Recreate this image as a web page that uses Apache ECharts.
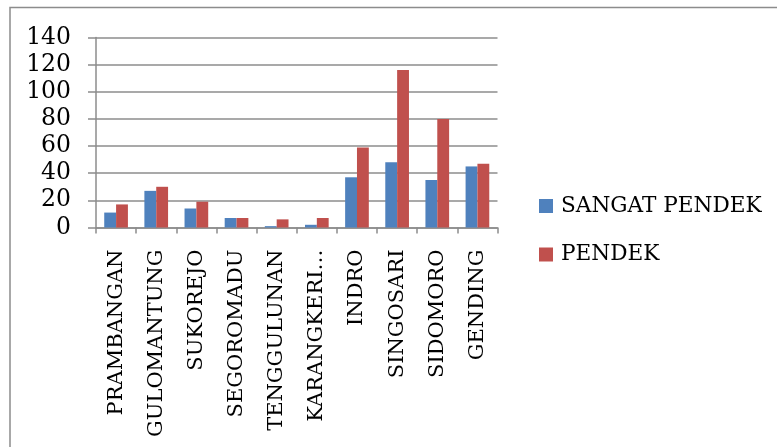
<!DOCTYPE html>
<html>
<head>
<meta charset="utf-8">
<script src="https://cdn.jsdelivr.net/npm/echarts@6/dist/echarts.min.js"></script>
<style>
  html, body { margin: 0; padding: 0; background: #ffffff; }
  #chart { width: 777px; height: 447px; }
</style>
</head>
<body>
<div id="chart"></div>
<script>
// Villages (desa) and counts of stunted children per category
const villages = ['PRAMBANGAN', 'GULOMANTUNG', 'SUKOREJO', 'SEGOROMADU', 'TENGGULUNAN',
                  'KARANGKERI…', 'INDRO', 'SINGOSARI', 'SIDOMORO', 'GENDING'];
const sangatPendek = [11, 27, 14, 7, 1, 2, 37, 48, 35, 45];
const pendek = [17, 30, 19, 7, 6, 7, 59, 116, 80, 47];
const yTicks = { min: 0, max: 140, step: 20 };

const FONT = 'DejaVu Serif';
const GRAY = '#8c8c8c';

const chart = echarts.init(document.getElementById('chart'), null, { renderer: 'canvas' });

chart.setOption({
  animation: false,
  backgroundColor: '#ffffff',
  textStyle: { fontFamily: FONT, color: '#000' },
  graphic: [{
    type: 'rect',
    shape: { x: 10, y: 7.5, width: 820, height: 500 },
    style: { fill: 'none', stroke: GRAY, lineWidth: 1.5 },
    silent: true
  }],
  grid: { left: 96, right: 279.5, top: 37.5, bottom: 219.5, containLabel: false },
  legend: {
    orient: 'vertical',
    left: 539,
    top: 195,
    padding: 0,
    icon: 'rect',
    itemWidth: 14,
    itemHeight: 14,
    itemGap: 26.5,
    textStyle: { fontFamily: FONT, fontSize: 21.6, color: '#000', padding: [0, 0, 0, 3] },
    data: ['SANGAT PENDEK', 'PENDEK']
  },
  xAxis: {
    type: 'category',
    data: villages,
    boundaryGap: true,
    axisLine: { show: true, lineStyle: { color: GRAY, width: 1.5 } },
    axisTick: { show: true, interval: 0, length: 6, lineStyle: { color: GRAY, width: 1.5 } },
    axisLabel: {
      interval: 0,
      rotate: 90,
      margin: 22,
      fontFamily: FONT,
      fontSize: 21,
      color: '#000'
    },
    splitLine: { show: false }
  },
  yAxis: {
    type: 'value',
    min: yTicks.min,
    max: yTicks.max,
    interval: yTicks.step,
    axisLine: { show: true, lineStyle: { color: GRAY, width: 1.5 } },
    axisTick: { show: true, length: 8, lineStyle: { color: GRAY, width: 1.5 } },
    axisLabel: { margin: 25, fontFamily: FONT, fontSize: 23.5, color: '#000' },
    splitLine: { show: true, lineStyle: { color: GRAY, width: 1.5 } }
  },
  series: [
    {
      name: 'SANGAT PENDEK',
      type: 'bar',
      data: sangatPendek,
      barGap: '0%',
      barCategoryGap: '41%',
      itemStyle: { color: '#4F81BD' }
    },
    {
      name: 'PENDEK',
      type: 'bar',
      data: pendek,
      barGap: '0%',
      barCategoryGap: '41%',
      itemStyle: { color: '#C0504D' }
    }
  ]
});
</script>
</body>
</html>
